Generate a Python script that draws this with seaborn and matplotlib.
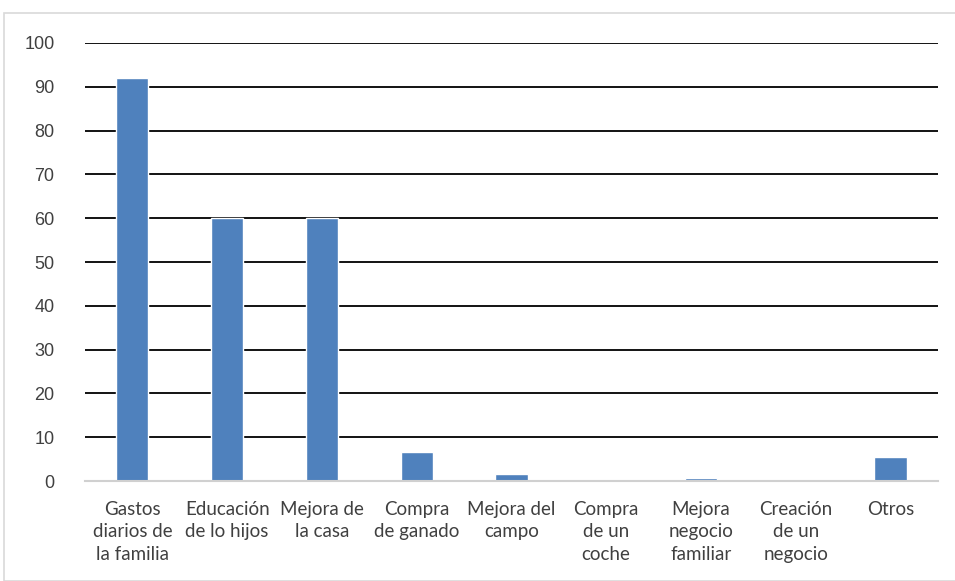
import matplotlib
matplotlib.use("Agg")
import pandas as pd
import seaborn as sns
from matplotlib import pyplot as plt
from matplotlib.patches import Rectangle

categorias = ['Gastos\ndiarios de\nla familia', 'Educación\nde lo hijos', 'Mejora de\nla casa',
              'Compra\nde ganado', 'Mejora del\ncampo', 'Compra\nde un\ncoche',
              'Mejora\nnegocio\nfamiliar', 'Creación\nde un\nnegocio', 'Otros']
valores = [92.1, 60.0, 60.0, 6.6, 1.6, 0.0, 0.7, 0.0, 5.4]
y_ticks = [0, 10, 20, 30, 40, 50, 60, 70, 80, 90, 100]

sns.set_style("white")
plt.rcParams['font.family'] = ['Lato', 'DejaVu Sans']

df = pd.DataFrame({'cat': categorias, 'val': valores})

fig = plt.figure(figsize=(9.55, 5.81), dpi=100)
ax = fig.add_axes([0.089, 0.172, 0.893, 0.754])
sns.barplot(data=df, x='cat', y='val', color='#4f81bd', saturation=1, width=0.34, ax=ax)

ax.set_ylim(0, 100)
ax.set_xlim(-0.5, len(categorias) - 0.5)
ax.set_yticks(y_ticks)
ax.set_axisbelow(True)
for t in y_ticks[1:]:
    ax.axhline(t, color='black', lw=1.3, zorder=0)
for s in ['top', 'right', 'left']:
    ax.spines[s].set_visible(False)
ax.spines['bottom'].set_color('#d0d0d0')
ax.spines['bottom'].set_linewidth(1.5)
ax.spines['bottom'].set_zorder(1)
ax.tick_params(axis='both', length=0, colors='#404040')
ax.tick_params(axis='y', pad=22, labelsize=13)
ax.tick_params(axis='x', pad=14, labelsize=13.5)
for lbl in ax.get_yticklabels():
    lbl.set_family(['Liberation Sans', 'DejaVu Sans'])
for lbl in ax.get_xticklabels():
    lbl.set_linespacing(1.42)
ax.set_xlabel('')
ax.set_ylabel('')

# marco exterior del gráfico
fig.patches.append(Rectangle((4 / 955, 0), 1, 1 - 13 / 581, transform=fig.transFigure,
                             fill=False, edgecolor='#d9d9d9', lw=1.2))

plt.savefig('out.png', dpi=100)
